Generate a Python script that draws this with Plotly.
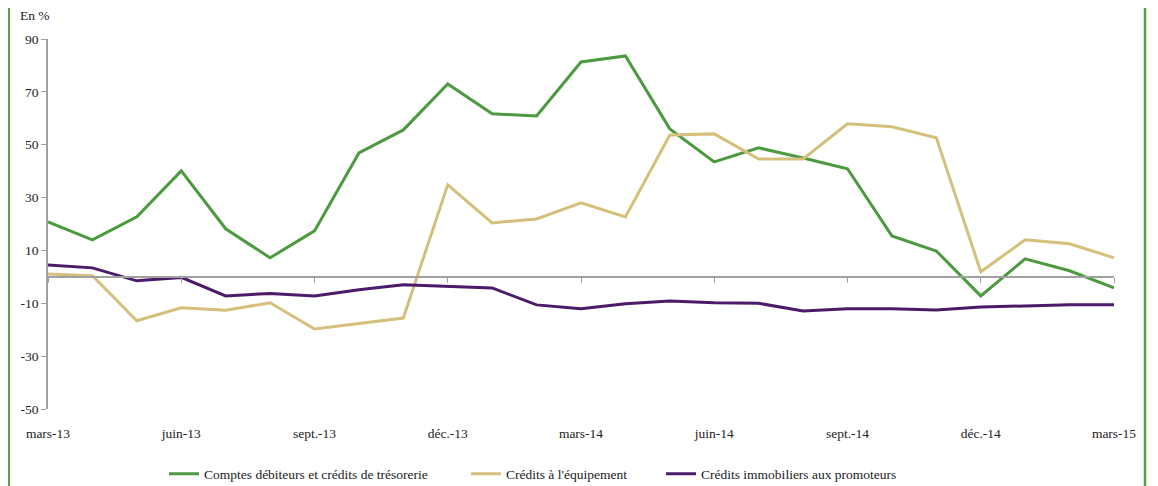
import plotly.graph_objects as go

months = ["mars-13", "avr.-13", "mai-13", "juin-13", "juil.-13", "août-13", "sept.-13", "oct.-13",
          "nov.-13", "déc.-13", "janv.-14", "févr.-14", "mars-14", "avr.-14", "mai-14", "juin-14",
          "juil.-14", "août-14", "sept.-14", "oct.-14", "nov.-14", "déc.-14", "janv.-15", "févr.-15", "mars-15"]
tick_idx = [0, 3, 6, 9, 12, 15, 18, 21, 24]
tick_labels = ["mars-13", "juin-13", "sept.-13", "déc.-13", "mars-14", "juin-14", "sept.-14", "déc.-14", "mars-15"]
y_ticks = [-50, -30, -10, 10, 30, 50, 70, 90]
y_tick_labels = ["-50", "-30", "-10", "10", "30", "50", "70", "90"]

comptes = [20.8, 14.0, 22.7, 40.1, 18.2, 7.2, 17.4, 46.9, 55.6, 73.0, 61.7, 60.9, 81.3, 83.6,
           56.0, 43.5, 48.8, 45.0, 40.9, 15.5, 9.8, -7.2, 6.8, 2.3, -4.2]
equipement = [1.1, 0.4, -16.6, -11.7, -12.6, -9.8, -19.7, -17.6, -15.6, 34.8, 20.4, 21.9, 28.0, 22.7,
              53.7, 54.1, 44.6, 44.6, 57.9, 56.8, 52.6, 1.9, 14.0, 12.5, 7.2]
promoteurs = [4.5, 3.4, -1.5, -0.2, -7.2, -6.3, -7.2, -4.9, -3.0, -3.6, -4.2, -10.6, -12.1, -10.2,
              -9.1, -9.8, -10.0, -12.9, -12.1, -12.1, -12.5, -11.4, -11.0, -10.6, -10.6]

names = ["Comptes débiteurs et crédits de trésorerie", "Crédits à l'équipement",
         "Crédits immobiliers aux promoteurs"]
colors = ["#4c9a3f", "#d5c07b", "#4b1a69"]
legend_ids = ["legend", "legend2", "legend3"]

x = list(range(len(months)))
fig = go.Figure()
for name, vals, col, lg in zip(names, [comptes, equipement, promoteurs], colors, legend_ids):
    fig.add_trace(go.Scatter(x=x, y=vals, name=name, mode="lines", legend=lg,
                             line=dict(color=col, width=3), customdata=months,
                             hovertemplate="%{customdata}: %{y}<extra></extra>"))
# invisible trace for the label axis
fig.add_trace(go.Scatter(x=[0, 24], y=[None, None], xaxis="x2", showlegend=False,
                         hoverinfo="skip", mode="lines"))

font = "Liberation Serif, Times New Roman, DejaVu Serif, serif"
fs = 13.5
# the page body has an 8px margin: the figure is drawn from (8, 8)
W, H = 1150, 478
PL, PR, PT, PB = 48, 1114, 39, 409  # plot area in page pixels
PW, PH = PR - PL, PB - PT


def legend_at(px):
    return dict(orientation="h", x=(px - PL) / PW, xanchor="left", y=(PB - 474) / PH,
                yanchor="middle", font=dict(family=font, size=fs, color="#222"),
                itemwidth=30, bgcolor="rgba(0,0,0,0)")


fig.update_layout(
    width=W, height=H,
    margin=dict(l=PL - 8, r=(8 + W) - PR, t=PT - 8, b=(8 + H) - PB, autoexpand=False),
    paper_bgcolor="white", plot_bgcolor="white",
    font=dict(family=font, size=fs, color="#222"),
    showlegend=True,
    legend=legend_at(164), legend2=legend_at(466), legend3=legend_at(661),
    xaxis=dict(range=[0, 24], anchor="free", position=50/140, showline=True,
               linecolor="#a0a0a0", linewidth=1.5, ticks="outside", ticklen=5,
               tickcolor="#a0a0a0", tickvals=tick_idx, showticklabels=False,
               showgrid=False, zeroline=False, automargin=False),
    xaxis2=dict(range=[0, 24], overlaying="x", side="bottom", anchor="y", showline=False,
                tickvals=tick_idx, ticktext=tick_labels, ticks="", showgrid=False,
                zeroline=False, ticklabelstandoff=14, automargin=False,
                tickfont=dict(family=font, size=fs, color="#222")),
    yaxis=dict(range=[-50, 90], tickvals=y_ticks, ticktext=y_tick_labels, showline=True,
               linecolor="#a0a0a0", linewidth=1.5, ticks="outside", ticklen=5,
               tickcolor="#a0a0a0", showgrid=False, zeroline=False, automargin=False,
               tickfont=dict(family=font, size=fs, color="#222")),
    annotations=[dict(text="En %", xref="paper", yref="paper", x=(18 - PL) / PW,
                      y=(PB - 16) / PH, xanchor="left", yanchor="middle", showarrow=False,
                      font=dict(family=font, size=fs, color="#222"))],
    shapes=[
        dict(type="line", xref="paper", yref="paper", x0=(9 - PL) / PW, x1=(9 - PL) / PW,
             y0=(PB - 490) / PH, y1=(PB + 2) / PH, line=dict(color="#5aa048", width=2)),
        dict(type="line", xref="paper", yref="paper", x0=(1145 - PL) / PW, x1=(1145 - PL) / PW,
             y0=(PB - 490) / PH, y1=(PB + 2) / PH, line=dict(color="#5aa048", width=2.5)),
    ],
)
fig.write_html("out.html")
